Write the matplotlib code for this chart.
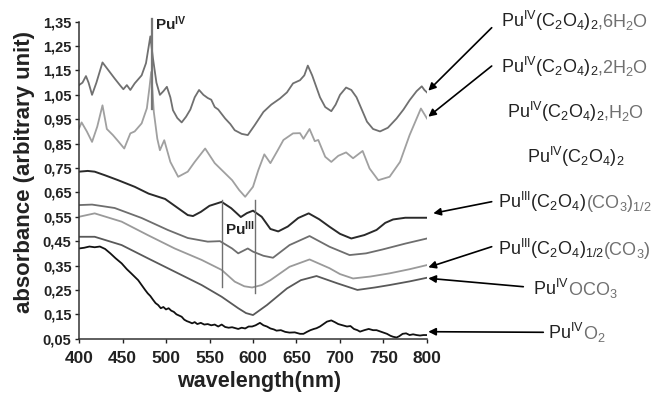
import matplotlib
matplotlib.use("Agg")
import matplotlib.pyplot as plt

plt.rcParams['font.family'] = ['Liberation Sans', 'DejaVu Sans']
plt.rcParams['mathtext.fontset'] = 'custom'
plt.rcParams['mathtext.rm'] = 'Liberation Sans'
plt.rcParams['mathtext.it'] = 'Liberation Sans:italic'
plt.rcParams['mathtext.bf'] = 'Liberation Sans:bold'

# ---------------- data ----------------
wl_6h2o = [400, 404, 408, 411, 415, 420, 427, 434, 441, 447, 451, 455, 459, 464, 472, 477, 482, 485,
           489, 493, 497, 501, 505, 508, 513, 518, 523, 528, 533, 538, 543, 548, 552, 556, 560, 568,
           574, 579, 587, 594, 602, 612, 621, 631, 639, 646, 654, 659, 663, 668, 673, 677, 683, 690,
           695, 700, 707, 713, 719, 725, 731, 738, 746, 755, 765, 773, 780, 788, 794, 797, 800]
ab_6h2o = [1.09, 1.10, 1.127, 1.10, 1.05, 1.10, 1.183, 1.15, 1.117, 1.09, 1.073, 1.09, 1.07, 1.097,
           1.13, 1.18, 1.29, 1.20, 1.10, 1.05, 1.065, 1.083, 1.04, 0.987, 0.955, 0.937, 0.96, 0.99,
           1.04, 1.07, 1.05, 1.037, 1.03, 1.00, 0.99, 0.953, 0.93, 0.905, 0.89, 0.885, 0.926, 0.98,
           1.01, 1.035, 1.06, 1.097, 1.11, 1.13, 1.17, 1.13, 1.08, 1.04, 1.00, 0.983, 1.01, 1.05,
           1.08, 1.07, 1.04, 0.99, 0.94, 0.91, 0.90, 0.915, 0.953, 0.99, 1.028, 1.065, 1.085, 1.07, 1.06]

wl_2h2o = [400, 403, 409, 415, 421, 427, 432, 439, 445, 452, 459, 464, 472, 478, 481, 483, 486, 490,
           493, 498, 505, 514, 525, 533, 545, 556, 566, 576, 584, 591, 600, 606, 613, 620, 628, 635,
           646, 654, 658, 665, 671, 675, 683, 690, 698, 707, 715, 726, 734, 744, 757, 769, 780, 793, 800]
ab_2h2o = [0.912, 0.937, 0.90, 0.857, 0.92, 1.007, 0.91, 0.885, 0.86, 0.83, 0.892, 0.90, 0.933, 0.995,
           1.08, 1.144, 0.98, 0.87, 0.823, 0.864, 0.775, 0.714, 0.735, 0.775, 0.83, 0.77, 0.735, 0.70,
           0.66, 0.632, 0.673, 0.74, 0.806, 0.77, 0.82, 0.865, 0.892, 0.893, 0.87, 0.91, 0.86, 0.865,
           0.796, 0.775, 0.80, 0.814, 0.79, 0.82, 0.748, 0.70, 0.714, 0.775, 0.885, 0.994, 0.953]

wl_c2o4_co3h = [400, 410, 418, 430, 445, 464, 480, 499, 512, 525, 531, 540, 550, 564, 575, 586, 593,
                600, 610, 620, 629, 640, 652, 664, 676, 688, 700, 713, 728, 742, 752, 761, 775, 800]
ab_c2o4_co3h = [0.735, 0.738, 0.735, 0.72, 0.70, 0.673, 0.645, 0.623, 0.59, 0.557, 0.553, 0.57, 0.595,
                0.611, 0.585, 0.549, 0.565, 0.575, 0.55, 0.50, 0.49, 0.51, 0.545, 0.564, 0.54, 0.509,
                0.48, 0.461, 0.475, 0.496, 0.525, 0.539, 0.546, 0.546]

wl_c2o4h_co3 = [400, 415, 441, 472, 502, 525, 548, 562, 576, 583, 594, 600, 612, 623, 642, 665, 688,
                711, 730, 749, 775, 800]
ab_c2o4h_co3 = [0.598, 0.60, 0.586, 0.545, 0.496, 0.463, 0.448, 0.45, 0.42, 0.40, 0.42, 0.407, 0.39,
                0.382, 0.434, 0.471, 0.427, 0.393, 0.40, 0.416, 0.44, 0.461]

wl_oco3 = [400, 418, 449, 479, 510, 541, 564, 579, 590, 599, 610, 620, 642, 665, 688, 700, 715, 735,
           757, 780, 800]
ab_oco3 = [0.55, 0.564, 0.53, 0.475, 0.42, 0.373, 0.332, 0.284, 0.265, 0.26, 0.27, 0.29, 0.345, 0.375,
           0.339, 0.315, 0.297, 0.305, 0.318, 0.335, 0.352]

wl_c4 = [400, 418, 449, 479, 510, 541, 564, 583, 592, 600, 616, 639, 655, 673, 697, 720, 740, 757,
         780, 800]
ab_c4 = [0.468, 0.468, 0.434, 0.38, 0.325, 0.27, 0.222, 0.175, 0.155, 0.147, 0.188, 0.256, 0.29,
         0.307, 0.277, 0.25, 0.26, 0.27, 0.285, 0.30]

wl_o2 = [400, 406, 412, 418, 424, 430, 436, 442, 449, 455, 460, 464, 468, 472, 476, 479, 482, 485,
         488, 491, 494, 497, 500, 503, 506, 509, 512, 515, 518, 521, 524, 527, 530, 533, 536, 540,
         544, 548, 552, 556, 560, 564, 568, 572, 576, 579, 583, 587, 591, 595, 599, 603, 608, 612,
         616, 620, 624, 627, 632, 637, 642, 648, 654, 658, 662, 666, 670, 673, 677, 681, 685, 690,
         694, 698, 703, 708, 712, 716, 720, 723, 728, 733, 738, 742, 746, 750, 754, 758, 761, 765,
         768, 772, 776, 780, 784, 788, 792, 796, 800]
ab_o2 = [0.42, 0.423, 0.428, 0.425, 0.428, 0.418, 0.40, 0.38, 0.359, 0.335, 0.318, 0.304, 0.29, 0.27,
         0.25, 0.236, 0.225, 0.21, 0.196, 0.188, 0.175, 0.18, 0.17, 0.175, 0.165, 0.16, 0.15, 0.145,
         0.14, 0.128, 0.122, 0.118, 0.113, 0.118, 0.11, 0.115, 0.108, 0.11, 0.105, 0.108, 0.10,
         0.108, 0.098, 0.095, 0.097, 0.094, 0.09, 0.095, 0.092, 0.10, 0.10, 0.105, 0.115, 0.105,
         0.10, 0.092, 0.088, 0.083, 0.085, 0.078, 0.075, 0.076, 0.07, 0.07, 0.078, 0.085, 0.09,
         0.093, 0.10, 0.11, 0.12, 0.125, 0.118, 0.11, 0.105, 0.10, 0.102, 0.09, 0.085, 0.079, 0.085,
         0.09, 0.085, 0.085, 0.08, 0.075, 0.07, 0.062, 0.058, 0.055, 0.06, 0.07, 0.072, 0.065, 0.068,
         0.065, 0.063, 0.065, 0.065]

x_ticks = [400, 450, 500, 550, 600, 650, 700, 750, 800]
y_ticks = [0.05, 0.15, 0.25, 0.35, 0.45, 0.55, 0.65, 0.75, 0.85, 0.95, 1.05, 1.15, 1.25, 1.35]
y_tick_labels = ['0,05', '0,15', '0,25', '0,35', '0,45', '0,55', '0,65', '0,75', '0,85', '0,95',
                 '1,05', '1,15', '1,25', '1,35']

pu4_lines = [482.5, 484]
pu4_span = (0.99, 1.365)
pu3_lines = [564, 602]
pu3_spans = [(0.263, 0.618), (0.236, 0.617)]

# ---------------- figure ----------------
W, H = 657, 394
fig = plt.figure(figsize=(W / 100, H / 100), dpi=100)
ax = fig.add_axes([79 / W, 1 - 338.7 / H, 348 / W, 317 / H])

ax.plot(wl_6h2o, ab_6h2o, color='#707070', lw=1.3)
ax.plot(wl_2h2o, ab_2h2o, color='#a0a0a0', lw=1.3)
ax.plot(wl_c2o4_co3h, ab_c2o4_co3h, color='#2a2a2a', lw=1.4)
ax.plot(wl_c2o4h_co3, ab_c2o4h_co3, color='#6e6e6e', lw=1.3)
ax.plot(wl_oco3, ab_oco3, color='#9a9a9a', lw=1.3)
ax.plot(wl_c4, ab_c4, color='#595959', lw=1.3)
ax.plot(wl_o2, ab_o2, color='#111111', lw=1.3)

for xv in pu4_lines:
    ax.plot([xv, xv], pu4_span, color='#777777', lw=0.9, clip_on=False)
for xv, (y0, y1) in zip(pu3_lines, pu3_spans):
    ax.plot([xv, xv], [y0, y1], color='#707070', lw=1.0)

ax.text(487.4, 1.318, r'Pu$^{\mathbf{IV}}$', fontsize=11, fontweight='bold', color='#222222',
        ha='left', va='baseline')
ax.text(567.8, 0.475, r'Pu$^{\mathbf{III}}$', fontsize=11, fontweight='bold', color='#222222',
        ha='left', va='baseline')

ax.set_xlim(400, 800)
ax.set_ylim(0.05, 1.35)
ax.set_xticks(x_ticks)
ax.set_xticklabels([str(v) for v in x_ticks], fontsize=12.5, fontweight='bold')
ax.set_yticks(y_ticks)
ax.set_yticklabels(y_tick_labels, fontsize=10.5, fontweight='bold')
ax.tick_params(axis='x', direction='out', length=3.2, width=1, pad=6, colors='#222222')
ax.tick_params(axis='y', direction='out', length=3.0, width=1, pad=2.4, colors='#222222')
for side in ['top', 'right']:
    ax.spines[side].set_visible(False)
for side in ['left', 'bottom']:
    ax.spines[side].set_linewidth(1.1)
    ax.spines[side].set_color('#333333')

fig.text(25 / W, 1 - 172 / H, 'absorbance (arbitrary unit)', rotation=90, fontsize=16,
         fontweight='bold', ha='center', va='center', color='#222222')
fig.text(259 / W, 1 - 381 / H, 'wavelength(nm)', fontsize=15.5, fontweight='bold',
         ha='center', va='center', color='#222222')

# ---------------- right-hand labels ----------------
DARK, GRAY = '#222222', '#707070'
labels = [
    (500.7, 27, [(r'Pu$^{\mathrm{IV}}$(C$_2$O$_4$)$_2$', DARK), (r',6H$_2$O', GRAY)]),
    (500.7, 73, [(r'Pu$^{\mathrm{IV}}$(C$_2$O$_4$)$_2$', DARK), (r',2H$_2$O', GRAY)]),
    (506.7, 118, [(r'Pu$^{\mathrm{IV}}$(C$_2$O$_4$)$_2$', DARK), (r',H$_2$O', GRAY)]),
    (526.7, 163, [(r'Pu$^{\mathrm{IV}}$(C$_2$O$_4$)$_2$', DARK)]),
    (497.7, 208, [(r'Pu$^{\mathrm{III}}$(C$_2$O$_4$)', DARK), (r'(CO$_3$)$_{1/2}$', GRAY)]),
    (497.7, 255, [(r'Pu$^{\mathrm{III}}$(C$_2$O$_4$)$_{1/2}$', DARK), (r'(CO$_3$)', GRAY)]),
    (533.0, 295, [(r'Pu$^{\mathrm{IV}}$', DARK), (r'OCO$_3$', GRAY)]),
    (547.7, 339, [(r'Pu$^{\mathrm{IV}}$', DARK), (r'O$_2$', GRAY)]),
]
renderer = fig.canvas.get_renderer()
for x0, base, parts in labels:
    x = x0
    for s, c in parts:
        t = fig.text(x / W, 1 - base / H, s, color=c, fontsize=13, ha='left', va='baseline')
        bb = t.get_window_extent(renderer)
        x += bb.width
        if s.endswith('$'):
            x -= 1.2

arrows = [
    ((491.7, 27.7), (428.3, 90.7)),
    ((491.7, 66.0), (428.3, 116.7)),
    ((491.7, 201.7), (433.3, 213.3)),
    ((491.7, 246.7), (428.3, 267.3)),
    ((523.3, 286.7), (428.3, 278.3)),
    ((543.3, 332.3), (428.3, 331.7)),
]
for (tx, ty), (hx, hy) in arrows:
    ax.annotate('', xy=(hx, H - hy), xytext=(tx, H - ty), xycoords='figure pixels',
                textcoords='figure pixels', annotation_clip=False,
                arrowprops=dict(arrowstyle='-|>', color='black', lw=1.2, mutation_scale=11,
                                shrinkA=0, shrinkB=0))

fig.savefig('out.png', dpi=100)
